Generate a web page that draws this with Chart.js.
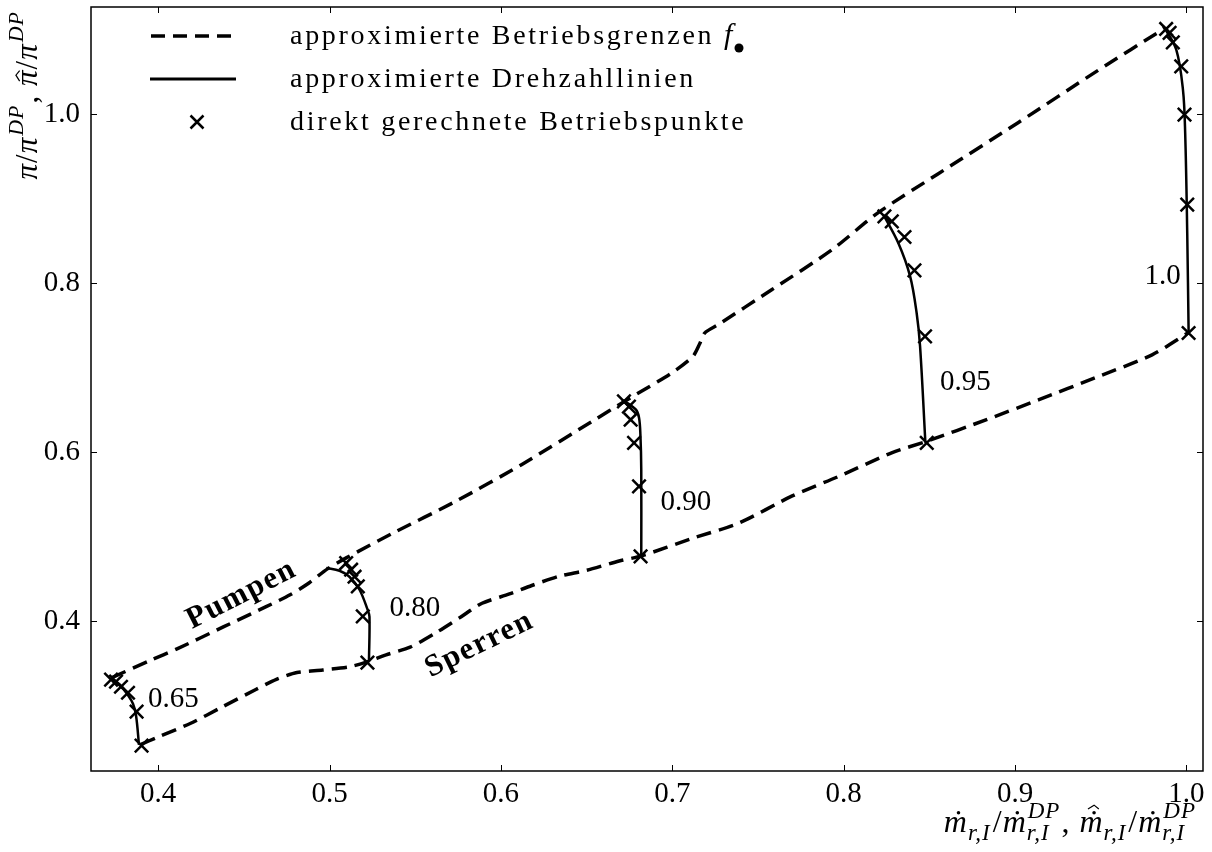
<!DOCTYPE html>
<html>
<head>
<meta charset="utf-8">
<script src="https://cdn.jsdelivr.net/npm/chart.js@4.4.0/dist/chart.umd.min.js"></script>
<style>
    html, body { margin: 0; padding: 0; background: #fff; }
    #wrap { width: 1212px; height: 852px; }
</style>
</head>
<body>
<div id="wrap"><canvas id="kennfeld" width="1212" height="852"></canvas></div>
<script>
// ========== Kennfeld data ==========
const xTicks = [0.4, 0.5, 0.6, 0.7, 0.8, 0.9, 1.0];
const yTicks = [0.4, 0.6, 0.8, 1.0];

// Pumpgrenze (upper operating limit)
const pumpX = [0.373, 0.395, 0.411, 0.438, 0.463, 0.477, 0.488, 0.499, 0.510, 0.537, 0.574, 0.612, 0.653,
    0.673, 0.700, 0.712, 0.716, 0.719, 0.727, 0.758, 0.793, 0.820, 0.855, 0.902, 0.948, 0.987];
const pumpY = [0.333, 0.353, 0.367, 0.393, 0.417, 0.431, 0.445, 0.462, 0.475, 0.504, 0.542, 0.585, 0.636,
    0.661, 0.694, 0.713, 0.728, 0.741, 0.751, 0.792, 0.839, 0.883, 0.929, 0.990, 1.051, 1.101];

// Sperrgrenze (lower operating limit)
const sperrX = [0.390, 0.399, 0.419, 0.438, 0.457, 0.469, 0.481, 0.496, 0.512, 0.521, 0.533, 0.547, 0.562,
    0.576, 0.589, 0.605, 0.618, 0.634, 0.650, 0.669, 0.682, 0.712, 0.739, 0.770, 0.797, 0.828, 0.849,
    0.883, 0.914, 0.947, 0.980, 1.001];
const sperrY = [0.254, 0.262, 0.279, 0.299, 0.319, 0.331, 0.339, 0.342, 0.346, 0.351, 0.360, 0.369, 0.386,
    0.404, 0.421, 0.432, 0.442, 0.453, 0.460, 0.471, 0.477, 0.498, 0.516, 0.548, 0.571, 0.599, 0.613,
    0.638, 0.662, 0.688, 0.715, 0.741];

// approximated speed lines
const n065X = [0.3725, 0.3777, 0.3818, 0.3853, 0.3871, 0.3888];
const n065Y = [0.3317, 0.3246, 0.3139, 0.3021, 0.2879, 0.2535];
const n080X = [0.4981, 0.5058, 0.5116, 0.5175, 0.5222, 0.5233, 0.5230];
const n080Y = [0.4627, 0.4595, 0.4524, 0.4370, 0.4134, 0.4051, 0.3520];
const n090X = [0.6718, 0.6788, 0.6806, 0.6814, 0.6819, 0.6819];
const n090Y = [0.6607, 0.6501, 0.6406, 0.6205, 0.5791, 0.4765];
const n095X = [0.8232, 0.8319, 0.8388, 0.8426, 0.8446, 0.8477];
const n095Y = [0.8808, 0.8473, 0.8078, 0.7645, 0.7250, 0.6110];
const n100X = [0.9873, 0.9941, 0.9980, 0.9993, 1.0005, 1.0013];
const n100Y = [1.1018, 1.0761, 1.0288, 0.9775, 0.8592, 0.7427];

// directly computed operating points
const p065X = [0.3725, 0.3754, 0.3783, 0.3824, 0.3874, 0.3903];
const p065Y = [0.3306, 0.3282, 0.3222, 0.3151, 0.2927, 0.2525];
const p080X = [0.5097, 0.5126, 0.5146, 0.5165, 0.5194, 0.5221];
const p080Y = [0.4686, 0.4607, 0.4524, 0.4410, 0.4054, 0.3507];
const p090X = [0.6718, 0.6747, 0.6757, 0.6777, 0.6806, 0.6815];
const p090Y = [0.6599, 0.6536, 0.6382, 0.6107, 0.5593, 0.4765];
const p095X = [0.8238, 0.8281, 0.8355, 0.8413, 0.8475, 0.8485];
const p095Y = [0.8788, 0.8729, 0.8544, 0.8149, 0.7368, 0.6107];
const p100X = [0.9882, 0.9902, 0.9921, 0.9970, 0.9989, 1.0005, 1.0013];
const p100Y = [1.1006, 1.0959, 1.0847, 1.0563, 0.9992, 0.8927, 0.7408];

const speedLabels = ['0.65', '0.80', '0.90', '0.95', '1.0'];

// ========== helpers ==========
const serif = "'Liberation Serif', 'DejaVu Serif', serif";
Chart.defaults.font.family = serif;
Chart.defaults.font.size = 29;
Chart.defaults.color = '#000';

function xy(xs, ys) {
    return xs.map((x, i) => ({ x: x, y: ys[i] }));
}

// draws a run of math tokens (main glyph + optional stacked sub/superscript)
function drawMath(ctx, tokens, x, y, size, draw) {
    let cx = x;
    tokens.forEach(tok => {
        ctx.font = (tok.it ? 'italic ' : '') + size + 'px ' + serif;
        const w = ctx.measureText(tok.t).width;
        if (draw) {
            ctx.fillText(tok.t, cx, y);
            const mx = cx + w / 2 + (tok.it ? size * 0.05 : 0);
            if (tok.dot) {
                ctx.beginPath();
                ctx.arc(mx + 1, y - size * 0.6, size * 0.055, 0, Math.PI * 2);
                ctx.fill();
            }
            if (tok.hat) {
                const hy = tok.dot ? y - size * 0.78 : y - size * 0.62;
                ctx.beginPath();
                ctx.lineWidth = 1.2;
                ctx.moveTo(mx - size * 0.16, hy + size * 0.06);
                ctx.lineTo(mx + 1, hy - size * 0.06);
                ctx.lineTo(mx + size * 0.18, hy + size * 0.06);
                ctx.stroke();
            }
        }
        cx += w;
        if (tok.sub || tok.sup) {
            const small = Math.round(size * 0.72);
            ctx.font = 'italic ' + small + 'px ' + serif;
            const ws = tok.sub ? ctx.measureText(tok.sub).width : 0;
            const wp = tok.sup ? ctx.measureText(tok.sup).width : 0;
            if (draw) {
                if (tok.sup) ctx.fillText(tok.sup, cx + 1, y - size * 0.44);
                if (tok.sub) ctx.fillText(tok.sub, cx, y + size * 0.24);
            }
            cx += Math.max(ws, wp) + 2;
        }
    });
    return cx - x;
}

const xTitle = [
    { t: 'm', it: true, dot: true, sub: 'r,I' },
    { t: '/' },
    { t: 'm', it: true, dot: true, sup: 'DP', sub: 'r,I' },
    { t: ', ' },
    { t: 'm', it: true, dot: true, hat: true, sub: 'r,I' },
    { t: '/' },
    { t: 'm', it: true, dot: true, sup: 'DP', sub: 'r,I' }
];
const yTitle = [
    { t: 'π', it: true },
    { t: '/' },
    { t: 'π', it: true, sup: 'DP' },
    { t: ', ' },
    { t: 'π', it: true, hat: true },
    { t: '/' },
    { t: 'π', it: true, sup: 'DP' }
];

// ========== plugins ==========
const framePlugin = {
    id: 'frame',
    afterDraw(chart) {
        const { ctx, chartArea: a, scales } = chart;
        ctx.save();
        ctx.strokeStyle = '#000';
        ctx.lineWidth = 1.5;
        ctx.strokeRect(a.left, a.top, a.right - a.left, a.bottom - a.top);
        ctx.lineWidth = 1;
        ctx.beginPath();
        xTicks.forEach(v => {
            const px = Math.round(scales.x.getPixelForValue(v)) + 0.5;
            ctx.moveTo(px, a.bottom); ctx.lineTo(px, a.bottom - 6);
            ctx.moveTo(px, a.top); ctx.lineTo(px, a.top + 6);
        });
        yTicks.forEach(v => {
            const py = Math.round(scales.y.getPixelForValue(v)) + 0.5;
            ctx.moveTo(a.left, py); ctx.lineTo(a.left + 6, py);
            ctx.moveTo(a.right, py); ctx.lineTo(a.right - 6, py);
        });
        ctx.stroke();

        // axis titles
        ctx.fillStyle = '#000';
        ctx.strokeStyle = '#000';
        ctx.textBaseline = 'alphabetic';
        ctx.textAlign = 'left';
        ctx.letterSpacing = '1px';
        const wx = drawMath(ctx, xTitle, 0, 0, 32, false);
        drawMath(ctx, xTitle, 1197 - wx, 832, 32, true);
        const wy = drawMath(ctx, yTitle, 0, 0, 31, false);
        ctx.translate(37, 10 + wy);
        ctx.rotate(-Math.PI / 2);
        drawMath(ctx, yTitle, 0, 0, 31, true);
        ctx.restore();
    }
};

const notesPlugin = {
    id: 'notes',
    afterDatasetsDraw(chart) {
        const { ctx, scales } = chart;
        const px = v => scales.x.getPixelForValue(v);
        const py = v => scales.y.getPixelForValue(v);
        ctx.save();
        ctx.fillStyle = '#000';

        // speed values next to each line
        ctx.font = '29px ' + serif;
        ctx.textAlign = 'left';
        ctx.textBaseline = 'middle';
        const at = [[0.394, 0.307], [0.535, 0.4145], [0.6932, 0.540], [0.8563, 0.6826], [0.9756, 0.8078]];
        speedLabels.forEach((s, i) => ctx.fillText(s, px(at[i][0]), py(at[i][1])));

        // limit names
        ctx.font = 'bold 31px ' + serif;
        ctx.letterSpacing = '1.5px';
        ctx.textAlign = 'center';
        [['Pumpen', 0.4486, 0.4311, 27], ['Sperren', 0.5874, 0.372, 26]].forEach(n => {
            ctx.save();
            ctx.translate(px(n[1]), py(n[2]));
            ctx.rotate(-n[3] * Math.PI / 180);
            ctx.fillText(n[0], 0, 0);
            ctx.restore();
        });
        ctx.restore();

        // legend
        ctx.save();
        ctx.strokeStyle = '#000';
        ctx.lineWidth = 3.5;
        ctx.setLineDash([14, 8]);
        ctx.beginPath(); ctx.moveTo(151, 36); ctx.lineTo(237, 36); ctx.stroke();
        ctx.setLineDash([]);
        ctx.lineWidth = 3;
        ctx.beginPath(); ctx.moveTo(150, 79); ctx.lineTo(236, 79); ctx.stroke();
        ctx.lineWidth = 2.5;
        ctx.beginPath();
        ctx.moveTo(190.5, 115.5); ctx.lineTo(203.5, 128.5);
        ctx.moveTo(203.5, 115.5); ctx.lineTo(190.5, 128.5);
        ctx.stroke();

        ctx.fillStyle = '#000';
        ctx.font = '28px ' + serif;
        ctx.letterSpacing = '2.7px';
        ctx.textAlign = 'left';
        ctx.textBaseline = 'alphabetic';
        const first = 'approximierte Betriebsgrenzen ';
        ctx.fillText(first, 290, 44);
        const fx = 290 + ctx.measureText(first).width;
        ctx.font = 'italic 30px ' + serif;
        ctx.fillText('f', fx, 44);
        ctx.beginPath();
        ctx.arc(fx + ctx.measureText('f').width + 4, 48, 4.5, 0, Math.PI * 2);
        ctx.fill();
        ctx.font = '28px ' + serif;
        ctx.fillText('approximierte Drehzahllinien', 290, 87);
        ctx.fillText('direkt gerechnete Betriebspunkte', 290, 130);
        ctx.restore();
    }
};

// ========== Chart ==========
const boundary = {
    showLine: true, pointRadius: 0, borderColor: '#000', borderWidth: 3.5,
    borderDash: [15, 8], tension: 0.25, fill: false
};
const speedLine = {
    showLine: true, pointRadius: 0, borderColor: '#000', borderWidth: 2.5,
    tension: 0.35, fill: false
};

new Chart(document.getElementById('kennfeld'), {
    type: 'scatter',
    data: {
        datasets: [
            Object.assign({ label: 'approximierte Betriebsgrenzen (Pumpen)', data: xy(pumpX, pumpY) }, boundary),
            Object.assign({ label: 'approximierte Betriebsgrenzen (Sperren)', data: xy(sperrX, sperrY) }, boundary),
            Object.assign({ label: speedLabels[0], data: xy(n065X, n065Y) }, speedLine),
            Object.assign({ label: speedLabels[1], data: xy(n080X, n080Y) }, speedLine),
            Object.assign({ label: speedLabels[2], data: xy(n090X, n090Y) }, speedLine),
            Object.assign({ label: speedLabels[3], data: xy(n095X, n095Y) }, speedLine),
            Object.assign({ label: speedLabels[4], data: xy(n100X, n100Y) }, speedLine),
            {
                label: 'direkt gerechnete Betriebspunkte',
                data: [].concat(xy(p065X, p065Y), xy(p080X, p080Y), xy(p090X, p090Y),
                    xy(p095X, p095Y), xy(p100X, p100Y)),
                showLine: false,
                pointStyle: 'crossRot',
                pointRadius: 9.5,
                borderWidth: 2.5,
                borderColor: '#000',
                backgroundColor: '#000'
            }
        ]
    },
    options: {
        responsive: false,
        animation: false,
        devicePixelRatio: 1,
        layout: { autoPadding: false, padding: { top: 7, right: 9, left: 0, bottom: 0 } },
        plugins: {
            legend: { display: false },
            tooltip: { enabled: false }
        },
        scales: {
            x: {
                type: 'linear',
                min: 0.3608,
                max: 1.0097,
                grid: { display: false, drawTicks: false },
                border: { display: false },
                ticks: { padding: 6, callback: v => v.toFixed(1) },
                afterBuildTicks: s => { s.ticks = xTicks.map(v => ({ value: v })); },
                afterFit: s => {
                    s.height = 81;
                    s.paddingLeft = 0;
                    s.paddingRight = 0;
                }
            },
            y: {
                type: 'linear',
                min: 0.2225,
                max: 1.1266,
                grid: { display: false, drawTicks: false },
                border: { display: false },
                ticks: { padding: 11, callback: v => v.toFixed(1) },
                afterBuildTicks: s => { s.ticks = yTicks.map(v => ({ value: v })); },
                afterFit: s => {
                    s.width = 91;
                    s.paddingTop = 0;
                    s.paddingBottom = 0;
                }
            }
        }
    },
    plugins: [framePlugin, notesPlugin]
});
</script>
</body>
</html>
